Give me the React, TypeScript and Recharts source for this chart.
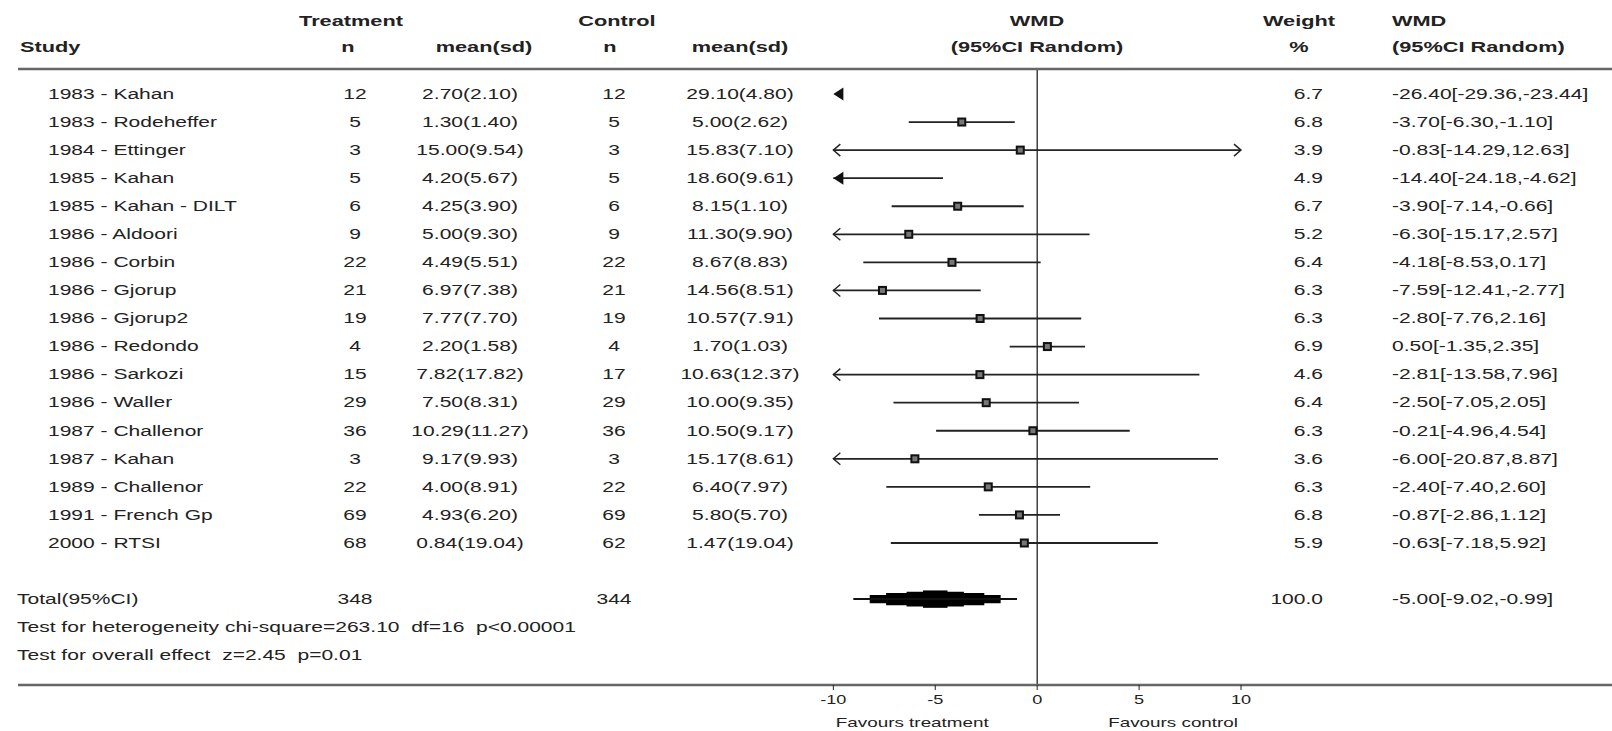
import React from "react";
import {
  ComposedChart,
  XAxis,
  YAxis,
  Scatter,
  ReferenceLine,
  ReferenceArea,
} from "recharts";

// study rows
const studies = [
  "1983 - Kahan", "1983 - Rodeheffer", "1984 - Ettinger", "1985 - Kahan", "1985 - Kahan - DILT",
  "1986 - Aldoori", "1986 - Corbin", "1986 - Gjorup", "1986 - Gjorup2", "1986 - Redondo",
  "1986 - Sarkozi", "1986 - Waller", "1987 - Challenor", "1987 - Kahan", "1989 - Challenor",
  "1991 - French Gp", "2000 - RTSI",
];
const treatN = [12, 5, 3, 5, 6, 9, 22, 21, 19, 4, 15, 29, 36, 3, 22, 69, 68];
const treatMean = [
  "2.70(2.10)", "1.30(1.40)", "15.00(9.54)", "4.20(5.67)", "4.25(3.90)", "5.00(9.30)",
  "4.49(5.51)", "6.97(7.38)", "7.77(7.70)", "2.20(1.58)", "7.82(17.82)", "7.50(8.31)",
  "10.29(11.27)", "9.17(9.93)", "4.00(8.91)", "4.93(6.20)", "0.84(19.04)",
];
const ctrlN = [12, 5, 3, 5, 6, 9, 22, 21, 19, 4, 17, 29, 36, 3, 22, 69, 62];
const ctrlMean = [
  "29.10(4.80)", "5.00(2.62)", "15.83(7.10)", "18.60(9.61)", "8.15(1.10)", "11.30(9.90)",
  "8.67(8.83)", "14.56(8.51)", "10.57(7.91)", "1.70(1.03)", "10.63(12.37)", "10.00(9.35)",
  "10.50(9.17)", "15.17(8.61)", "6.40(7.97)", "5.80(5.70)", "1.47(19.04)",
];
const wmd = [-26.4, -3.7, -0.83, -14.4, -3.9, -6.3, -4.18, -7.59, -2.8, 0.5, -2.81, -2.5, -0.21, -6.0, -2.4, -0.87, -0.63];
const ciLow = [-29.36, -6.3, -14.29, -24.18, -7.14, -15.17, -8.53, -12.41, -7.76, -1.35, -13.58, -7.05, -4.96, -20.87, -7.4, -2.86, -7.18];
const ciHigh = [-23.44, -1.1, 12.63, -4.62, -0.66, 2.57, 0.17, -2.77, 2.16, 2.35, 7.96, 2.05, 4.54, 8.87, 2.6, 1.12, 5.92];
const weights = [6.7, 6.8, 3.9, 4.9, 6.7, 5.2, 6.4, 6.3, 6.3, 6.9, 4.6, 6.4, 6.3, 3.6, 6.3, 6.8, 5.9];

// pooled result
const totalLabel = "Total(95%CI)";
const totalTreatN = 348;
const totalCtrlN = 344;
const totalWmd = -5.0;
const totalLow = -9.02;
const totalHigh = -0.99;
const totalWeight = 100.0;
const heterogeneityText = "Test for heterogeneity chi-square=263.10  df=16  p<0.00001";
const overallText = "Test for overall effect  z=2.45  p=0.01";

const axisTicks = [-10, -5, 0, 5, 10];
const favourLabels = ["Favours treatment", "Favours control"];
const plotLimit = 10;

const TOTAL_ROW = 18;
const HET_ROW = 19;
const OVERALL_ROW = 20;

const SX = 1.45;
const FONT = "'Liberation Sans', Arial, Helvetica, sans-serif";
const INK = "#222";

const COL = { head: 17, name: 48, tn: 355, tm: 470, cn: 614, cm: 740, wt: 1323, ci: 1392 };

function T({ x, y, children, anchor = "start", bold = false, size = 14.5 }: any) {
  return (
    <text
      transform={`translate(${x},${y}) scale(${SX},1)`}
      textAnchor={anchor}
      dominantBaseline="central"
      fontFamily={FONT}
      fontSize={size}
      fontWeight={bold ? 700 : 400}
      fill={INK}
      style={{ whiteSpace: "pre" }}
    >
      {children}
    </text>
  );
}

const fmtCI = (w: number, lo: number, hi: number) => `${w.toFixed(2)}[${lo.toFixed(2)},${hi.toFixed(2)}]`;

function RowTick({ y, payload }: any) {
  const r = payload.value;
  if (r < studies.length) {
    return (
      <g>
        <T x={COL.name} y={y}>{studies[r]}</T>
        <T x={COL.tn} y={y} anchor="middle">{treatN[r]}</T>
        <T x={COL.tm} y={y} anchor="middle">{treatMean[r]}</T>
        <T x={COL.cn} y={y} anchor="middle">{ctrlN[r]}</T>
        <T x={COL.cm} y={y} anchor="middle">{ctrlMean[r]}</T>
        <T x={COL.wt} y={y} anchor="end">{weights[r].toFixed(1)}</T>
        <T x={COL.ci} y={y}>{fmtCI(wmd[r], ciLow[r], ciHigh[r])}</T>
      </g>
    );
  }
  if (r === TOTAL_ROW) {
    return (
      <g>
        <T x={COL.head} y={y}>{totalLabel}</T>
        <T x={COL.tn} y={y} anchor="middle">{totalTreatN}</T>
        <T x={COL.cn} y={y} anchor="middle">{totalCtrlN}</T>
        <T x={COL.wt} y={y} anchor="end">{totalWeight.toFixed(1)}</T>
        <T x={COL.ci} y={y}>{fmtCI(totalWmd, totalLow, totalHigh)}</T>
      </g>
    );
  }
  if (r === HET_ROW) return <T x={COL.head} y={y}>{heterogeneityText}</T>;
  if (r === OVERALL_ROW) return <T x={COL.head} y={y}>{overallText}</T>;
  return <g />;
}

function AxisTick({ x, y, payload }: any) {
  const v = payload.value;
  return (
    <g>
      <T x={x} y={y + 7} anchor="middle" size={12.5}>{String(v)}</T>
      {v === -5 && <T x={x - 23} y={y + 29} anchor="middle" size={13}>{favourLabels[0]}</T>}
      {v === 5 && <T x={x + 34} y={y + 29} anchor="middle" size={13}>{favourLabels[1]}</T>}
    </g>
  );
}

function Square({ cx, cy }: any) {
  return <rect x={cx - 3.5} y={cy - 3.5} width={7} height={7} fill="#777" stroke="#111" strokeWidth={2} />;
}

function Arrow({ cx, cy, payload }: any) {
  if (payload.kind === "filled") {
    return <path d={`M${cx},${cy} L${cx + 10},${cy - 6.5} L${cx + 10},${cy + 6.5} Z`} fill="#111" />;
  }
  const d = payload.kind === "left" ? 1 : -1;
  return (
    <path
      d={`M${cx + 7 * d},${cy - 6} L${cx},${cy} L${cx + 7 * d},${cy + 6}`}
      fill="none"
      stroke={INK}
      strokeWidth={1.4}
    />
  );
}

const points = studies
  .map((_, i) => ({ x: wmd[i], y: i }))
  .filter((p) => Math.abs(p.x) <= plotLimit);

const arrows: { x: number; y: number; kind: string }[] = [];
studies.forEach((_, i) => {
  if (wmd[i] < -plotLimit) arrows.push({ x: -plotLimit, y: i, kind: "filled" });
  else if (ciLow[i] < -plotLimit) arrows.push({ x: -plotLimit, y: i, kind: "left" });
  if (ciHigh[i] > plotLimit) arrows.push({ x: plotLimit, y: i, kind: "right" });
});

// stepped diamond: fraction of half-width, half-height in rows
const diamondSteps = [
  [0.8, 0.15],
  [0.6, 0.22],
  [0.35, 0.26],
  [0.15, 0.31],
];

const rowTicks = [...studies.map((_, i) => i), TOTAL_ROW, HET_ROW, OVERALL_ROW];

function Header() {
  return (
    <svg width={1612} height={66} style={{ position: "absolute", left: 0, top: 0 }}>
      <T x={351} y={21} anchor="middle" bold size={15}>Treatment</T>
      <T x={617} y={21} anchor="middle" bold size={15}>Control</T>
      <T x={1037} y={21} anchor="middle" bold size={15}>WMD</T>
      <T x={1299} y={21} anchor="middle" bold size={15}>Weight</T>
      <T x={COL.ci} y={21} bold size={15}>WMD</T>
      <T x={COL.head + 3} y={47} bold size={15}>Study</T>
      <T x={348} y={47} anchor="middle" bold size={15}>n</T>
      <T x={484} y={47} anchor="middle" bold size={15}>mean(sd)</T>
      <T x={610} y={47} anchor="middle" bold size={15}>n</T>
      <T x={740} y={47} anchor="middle" bold size={15}>mean(sd)</T>
      <T x={1037} y={47} anchor="middle" bold size={15}>(95%CI Random)</T>
      <T x={1299} y={47} anchor="middle" bold size={15}>%</T>
      <T x={COL.ci} y={47} bold size={15}>(95%CI Random)</T>
    </svg>
  );
}

export default function App() {
  return (
    <div style={{ position: "relative", width: 1612, height: 731, background: "#fff" }}>
      <style>{"body{margin:0}"}</style>
      <ComposedChart width={1612} height={731} margin={{ top: 68, right: 0, bottom: 0, left: 17 }}>
        <XAxis
          dataKey="x"
          type="number"
          domain={[-50, 28.2]}
          allowDataOverflow
          ticks={axisTicks}
          interval={0}
          height={46}
          tickSize={5}
          tickMargin={3}
          axisLine={{ stroke: "#666", strokeWidth: 2.5 }}
          tickLine={{ stroke: INK }}
          tick={<AxisTick />}
        />
        <XAxis
          xAxisId="top"
          orientation="top"
          type="number"
          domain={[-50, 28.2]}
          ticks={[0]}
          height={1}
          tick={false}
          tickLine={false}
          axisLine={{ stroke: "#666", strokeWidth: 2.5 }}
        />
        <YAxis
          dataKey="y"
          type="number"
          domain={[-0.89, 21.06]}
          reversed
          allowDataOverflow
          width={1}
          ticks={rowTicks}
          interval={0}
          axisLine={false}
          tickLine={false}
          tick={<RowTick />}
        />
        <ReferenceLine x={0} stroke="#111" strokeWidth={1.2} />
        {studies.map((_, i) => {
          const lo = Math.max(ciLow[i], -plotLimit);
          const hi = Math.min(ciHigh[i], plotLimit);
          if (hi <= lo) return null;
          return (
            <ReferenceLine
              key={i}
              segment={[{ x: lo, y: i }, { x: hi, y: i }]}
              stroke={INK}
              strokeWidth={1.8}
            />
          );
        })}
        <ReferenceLine
          segment={[{ x: totalLow, y: TOTAL_ROW }, { x: totalHigh, y: TOTAL_ROW }]}
          stroke="#111"
          strokeWidth={2}
        />
        {diamondSteps.map(([f, h], k) => (
          <ReferenceArea
            key={k}
            x1={totalWmd + f * (totalLow - totalWmd)}
            x2={totalWmd + f * (totalHigh - totalWmd)}
            y1={TOTAL_ROW - h}
            y2={TOTAL_ROW + h}
            fill="#000"
            fillOpacity={1}
            stroke="none"
          />
        ))}
        <Scatter data={points} shape={<Square />} isAnimationActive={false} />
        <Scatter data={arrows} shape={<Arrow />} isAnimationActive={false} />
      </ComposedChart>
      <Header />
    </div>
  );
}
